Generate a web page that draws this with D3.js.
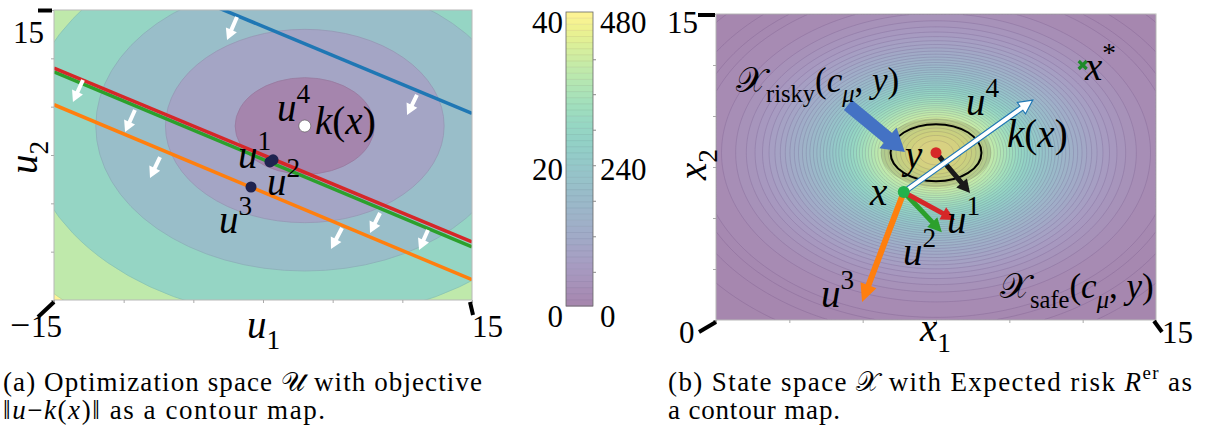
<!DOCTYPE html>
<html>
<head>
<meta charset="utf-8">
<script src="https://cdn.jsdelivr.net/npm/d3@7"></script>
<style>
  body { margin: 0; background: #fff; }
  svg { display: block; }
</style>
</head>
<body>
<svg id="fig" width="1205" height="436" font-family="'Liberation Serif', 'Times New Roman', serif"></svg>
<script>

// ---------------- data: panel (a), optimization space U ----------------
var U_DOMAIN = [-15, 15];
var U_TICKS = [-15, -10, -5, 0, 5, 10, 15];
var KX = [3, 3];                                  // k(x), centre of ||u - k(x)||
var OBJ_LEVELS = [5, 10, 15, 20, 25];             // contour levels of the objective

// constraint lines, given by u2 at u1 = -15 and at u1 = 15
var CON_Y_LEFT  = [22.3, 5.2, 8.6, 9.0];
var CON_Y_RIGHT = [4.3, -12.9, -9.5, -9.0];

// white arrows showing the feasible side of each constraint
var HALF_TAIL_X = [-1.87, 11.05, -12.92, -9.19, -7.39, 8.40, 5.67, 11.84];
var HALF_TAIL_Y = [14.28, 6.21, 7.76, 4.66, -0.21, -6.0, -7.55, -7.76];
var HALF_HEAD_X = [-2.58, 10.34, -13.64, -9.90, -8.11, 7.68, 4.88, 11.20];
var HALF_HEAD_Y = [11.90, 4.14, 5.48, 2.38, -2.38, -8.07, -9.72, -9.83];

// candidate solutions u^1..u^4
var U_NAMES = ["1", "2", "3", "4"];
var U_X = [0.72, 0.5, -0.86, 3];
var U_Y = [-0.5, -0.72, -3.31, 3];

// ---------------- data: colour bar ----------------
var CB_LEFT_TICKS = [0, 20, 40];
var CB_RIGHT_TICKS = [0, 240, 480];
var CB_MINOR = [55, 113, 171, 229, 287, 345, 402];

// ---------------- data: panel (b), state space X ----------------
var X_DOMAIN = [0, 15];
var X_TICKS = [0, 2.5, 5, 7.5, 10, 12.5, 15];
var Y_OBS = [7.5, 8.2];                            // obstacle y
var RISK_PEAK = 480;
var RISK_SIGMA = 2.9;
var RISK_LEVELS = [0, 1.5, 4, 7].concat(d3.range(10, 480, 10));
var CB_LEVELS = d3.range(0, 480, 10);
var RISKY_R = [1.55, 1.4];                         // X_risky boundary
var HALO_R = [1.88, 1.69];
var X_STATE = [6.4, 6.27];
var X_STAR = [12.5, 12.5];
var Y_ARROW_END = [8.66, 6.23];                    // black arrow from y
var CTRL_NAMES = ["1", "2", "3", "4"];
var CTRL_END_X = [8.15, 7.7, 4.98, 10.8];
var CTRL_END_Y = [4.9, 4.3, 0.88, 10.78];
var POINTER_FROM = [4.5, 10.54];
var POINTER_TO = [6.44, 8.24];

// ---------------- helpers ----------------
var ALPHA = 0.48;
function blend(t) {
  return d3.interpolateRgb("#ffffff", d3.interpolateViridis(t))(ALPHA);
}

function arrowPath(x0, y0, x1, y1, w, hw, hl) {
  var dx = x1 - x0, dy = y1 - y0, L = Math.hypot(dx, dy);
  var ux = dx / L, uy = dy / L, nx = -uy, ny = ux;
  var bx = x1 - ux * hl, by = y1 - uy * hl;
  var pts = [
    [x0 + nx * w / 2, y0 + ny * w / 2], [bx + nx * w / 2, by + ny * w / 2],
    [bx + nx * hw / 2, by + ny * hw / 2], [x1, y1],
    [bx - nx * hw / 2, by - ny * hw / 2], [bx - nx * w / 2, by - ny * w / 2],
    [x0 - nx * w / 2, y0 - ny * w / 2]
  ];
  return "M" + pts.map(function(p) { return p[0].toFixed(2) + "," + p[1].toFixed(2); }).join("L") + "Z";
}

// parts: [text, style]; style is "i", "r", "isub", "rsub", "rsup", "isup"
function mathText(g, x, y, size, parts, anchor) {
  var t = g.append("text").attr("x", x).attr("y", y)
            .attr("font-size", size).attr("text-anchor", anchor || "start");
  var shift = 0;
  parts.forEach(function(p) {
    var s = p[1] || "i";
    var target = s.indexOf("sub") >= 0 ? size * 0.28 : (s.indexOf("sup") >= 0 ? -size * 0.45 : 0);
    var sp = t.append("tspan").text(p[0]).attr("dy", target - shift);
    shift = target;
    if (s.charAt(0) === "i") sp.attr("font-style", "italic");
    if (target !== 0) sp.attr("font-size", size * 0.7);
  });
  return t;
}

function thickTick(g, x0, y0, x1, y1) {
  g.append("line").attr("x1", x0).attr("y1", y0).attr("x2", x1).attr("y2", y1)
    .attr("stroke", "#000").attr("stroke-width", 4);
}

var svg = d3.select("#fig");
svg.append("rect").attr("width", 1205).attr("height", 436).attr("fill", "#fff");
var defs = svg.append("defs");

var LS = 39;   // math label size
var TS = 31;   // tick label size

// =====================================================================
// Panel (a)
// =====================================================================
var xU = d3.scaleLinear().domain(U_DOMAIN).range([54, 472]);
var yU = d3.scaleLinear().domain(U_DOMAIN).range([300, 10]);

defs.append("clipPath").attr("id", "clipA").append("rect")
    .attr("x", xU(-15)).attr("y", yU(15))
    .attr("width", xU(15) - xU(-15)).attr("height", yU(-15) - yU(15));

var gA = svg.append("g");
var plotA = gA.append("g").attr("clip-path", "url(#clipA)");

// background band (beyond outer level)
plotA.append("rect")
    .attr("x", xU(-15)).attr("y", yU(15))
    .attr("width", xU(15) - xU(-15)).attr("height", yU(-15) - yU(15))
    .attr("fill", blend(1));

// objective contour bands, outer first
OBJ_LEVELS.slice().reverse().forEach(function(r) {
  var i = OBJ_LEVELS.indexOf(r);
  var c = blend(i / OBJ_LEVELS.length);
  plotA.append("ellipse")
      .attr("cx", xU(KX[0])).attr("cy", yU(KX[1]))
      .attr("rx", xU(r) - xU(0)).attr("ry", yU(0) - yU(r))
      .attr("fill", c)
      .attr("stroke", d3.color(c).darker(0.25))
      .attr("stroke-width", 0.8);
});

// constraint lines
var conColors = ["#1f77b4", "#ff7f0e", "#2ca02c", "#d62728"];
plotA.selectAll("line.con")
    .data(CON_Y_LEFT).enter()
  .append("line")
    .attr("class", "con")
    .attr("x1", xU(-15)).attr("x2", xU(15))
    .attr("y1", function(d) { return yU(d); })
    .attr("y2", function(d, i) { return yU(CON_Y_RIGHT[i]); })
    .attr("stroke", function(d, i) { return conColors[i]; })
    .attr("stroke-width", 3.5);

// half-space arrows
plotA.selectAll("path.half")
    .data(HALF_TAIL_X).enter()
  .append("path")
    .attr("class", "half")
    .attr("d", function(d, i) {
      return arrowPath(xU(d), yU(HALF_TAIL_Y[i]), xU(HALF_HEAD_X[i]), yU(HALF_HEAD_Y[i]), 4, 12, 11);
    })
    .attr("fill", "#fff");

// candidate points
plotA.selectAll("circle.u")
    .data(U_NAMES).enter()
  .append("circle")
    .attr("class", "u")
    .attr("cx", function(d, i) { return xU(U_X[i]); })
    .attr("cy", function(d, i) { return yU(U_Y[i]); })
    .attr("r", function(d, i) { return i === 3 ? 6 : 5.5; })
    .attr("fill", function(d, i) { return i === 3 ? "#fff" : "#1f2350"; })
    .attr("stroke", function(d, i) { return i === 3 ? "#555" : "none"; })
    .attr("stroke-width", 0.6);

// labels in panel (a)
mathText(gA, 277, 121, LS, [["u", "i"], ["4", "rsup"]]);
mathText(gA, 315, 134, LS, [["k", "i"], ["(", "r"], ["x", "i"], [")", "r"]]);
mathText(gA, 238, 168, LS, [["u", "i"], ["1", "rsup"]]);
mathText(gA, 267, 195, LS, [["u", "i"], ["2", "rsup"]]);
mathText(gA, 219, 233, LS, [["u", "i"], ["3", "rsup"]]);

// frame and ticks
gA.append("rect")
    .attr("x", xU(-15)).attr("y", yU(15))
    .attr("width", xU(15) - xU(-15)).attr("height", yU(-15) - yU(15))
    .attr("fill", "none").attr("stroke", "#b8b8b8").attr("stroke-width", 1);

gA.append("g").attr("transform", "translate(" + xU(-15) + ",0)")
    .call(d3.axisLeft(yU).tickValues(U_TICKS).tickSize(3).tickFormat(""))
    .call(function(g) { g.select(".domain").remove(); g.selectAll("line").attr("stroke", "#aaa"); });
gA.append("g").attr("transform", "translate(0," + yU(-15) + ")")
    .call(d3.axisBottom(xU).tickValues(U_TICKS).tickSize(3).tickFormat(""))
    .call(function(g) { g.select(".domain").remove(); g.selectAll("line").attr("stroke", "#aaa"); });

thickTick(gA, xU(-15) - 16, yU(15) + 0.5, xU(-15) - 2, yU(15) + 0.5);
thickTick(gA, xU(-15) - 16, yU(-15) + 17, xU(-15), yU(-15) + 2);
thickTick(gA, xU(15) - 2, yU(-15) + 2, xU(15) + 1, yU(-15) + 15);

gA.append("text").attr("x", 44).attr("y", 43).attr("font-size", TS).attr("text-anchor", "end").text("15");
var neg = gA.append("text").attr("x", 10).attr("y", 337).attr("font-size", TS);
neg.append("tspan").attr("font-size", TS * 1.15).text("\u2212");
neg.append("tspan").attr("dx", 1).text("15");
gA.append("text").attr("x", 472).attr("y", 337).attr("font-size", TS).text("15");
mathText(gA, 247, 338, LS, [["u", "i"], ["1", "rsub"]]);
mathText(gA.append("g").attr("transform", "translate(37,174) rotate(-90)"), 0, 0, LS, [["u", "i"], ["2", "rsub"]]);

// =====================================================================
// Colour bar
// =====================================================================
var gC = svg.append("g");
var cbX = 566, cbW = 27;
var yCB = d3.scaleLinear().domain([0, 480]).range([306, 12]);
gC.selectAll("rect.band")
    .data(CB_LEVELS).enter()
  .append("rect")
    .attr("class", "band")
    .attr("x", cbX).attr("width", cbW)
    .attr("y", function(d) { return yCB(d + 10); })
    .attr("height", function(d) { return yCB(d) - yCB(d + 10) + 0.5; })
    .attr("fill", function(d) { return blend((d + 5) / 480); });
gC.selectAll("line.sep")
    .data(CB_LEVELS.slice(1)).enter()
  .append("line")
    .attr("class", "sep")
    .attr("x1", cbX).attr("x2", cbX + cbW)
    .attr("y1", function(d) { return yCB(d); }).attr("y2", function(d) { return yCB(d); })
    .attr("stroke", "rgba(60,50,90,0.12)").attr("stroke-width", 0.7);
gC.append("rect").attr("x", cbX).attr("y", yCB(480)).attr("width", cbW).attr("height", yCB(0) - yCB(480))
    .attr("fill", "none").attr("stroke", "#666").attr("stroke-width", 0.8);
gC.selectAll("line.minor")
    .data(CB_MINOR).enter()
  .append("line")
    .attr("x1", cbX + cbW).attr("x2", cbX + cbW + 3)
    .attr("y1", function(d) { return yCB(d); }).attr("y2", function(d) { return yCB(d); })
    .attr("stroke", "#888");
var yCBleft = d3.scaleLinear().domain([0, 40]).range([306, 12]);
gC.selectAll("text.cl")
    .data(CB_LEFT_TICKS).enter()
  .append("text")
    .attr("x", 563).attr("y", function(d) { return yCBleft(d) + 21; })
    .attr("font-size", TS).attr("text-anchor", "end")
    .text(function(d) { return d; });
gC.selectAll("text.cr")
    .data(CB_RIGHT_TICKS).enter()
  .append("text")
    .attr("x", 600).attr("y", function(d) { return yCB(d) + 21; })
    .attr("font-size", TS)
    .text(function(d) { return d; });

// =====================================================================
// Panel (b)
// =====================================================================
var xX = d3.scaleLinear().domain(X_DOMAIN).range([716, 1156]);
var yX = d3.scaleLinear().domain(X_DOMAIN).range([320, 14]);

defs.append("clipPath").attr("id", "clipB").append("rect")
    .attr("x", xX(0)).attr("y", yX(15))
    .attr("width", xX(15) - xX(0)).attr("height", yX(0) - yX(15));

var gB = svg.append("g");
var plotB = gB.append("g").attr("clip-path", "url(#clipB)");

// risk field on a grid
var NX = 300, NY = 220;
var grid = new Array(NX * NY);
for (var j = 0; j < NY; j++) {
  for (var i = 0; i < NX; i++) {
    var gx = (i + 0.5) / NX * 15, gy = 15 - (j + 0.5) / NY * 15;
    var r2 = (gx - Y_OBS[0]) * (gx - Y_OBS[0]) + (gy - Y_OBS[1]) * (gy - Y_OBS[1]);
    grid[i + j * NX] = RISK_PEAK * Math.exp(-r2 / (2 * RISK_SIGMA * RISK_SIGMA));
  }
}
var contours = d3.contours().size([NX, NY]).thresholds(RISK_LEVELS)(grid);
var toPx = d3.geoTransform({
  point: function(px, py) {
    this.stream.point(xX(px / NX * 15), yX(15 - py / NY * 15));
  }
});
var cPath = d3.geoPath(toPx);
plotB.selectAll("path.fill")
    .data(contours).enter()
  .append("path")
    .attr("d", cPath)
    .attr("fill", function(d) { return blend(Math.min(1, (d.value + 5) / RISK_PEAK)); });
plotB.selectAll("path.iso")
    .data(contours.slice(1)).enter()
  .append("path")
    .attr("d", cPath)
    .attr("fill", "none")
    .attr("stroke", "rgba(70,40,100,0.22)")
    .attr("stroke-width", 0.7);

// X_risky region
plotB.append("ellipse")
    .attr("cx", xX(Y_OBS[0])).attr("cy", yX(Y_OBS[1]))
    .attr("rx", xX(HALO_R[0]) - xX(0)).attr("ry", yX(0) - yX(HALO_R[1]))
    .attr("fill", "#5a5a40").attr("fill-opacity", 0.22);
plotB.append("ellipse")
    .attr("cx", xX(Y_OBS[0])).attr("cy", yX(Y_OBS[1]))
    .attr("rx", xX(RISKY_R[0]) - xX(0)).attr("ry", yX(0) - yX(RISKY_R[1]))
    .attr("fill", "none").attr("stroke", "#000").attr("stroke-width", 2);

// pointer to X_risky
plotB.append("path")
    .attr("d", arrowPath(xX(POINTER_FROM[0]), yX(POINTER_FROM[1]), xX(POINTER_TO[0]), yX(POINTER_TO[1]), 13, 27, 22))
    .attr("fill", "#4472c4");

// black arrow from y
plotB.append("path")
    .attr("d", arrowPath(xX(Y_OBS[0]), yX(Y_OBS[1]), xX(Y_ARROW_END[0]), yX(Y_ARROW_END[1]), 5, 14, 13))
    .attr("fill", "#1a1a1a");

// control arrows from x
var ctrlColors = ["#d62728", "#2ca02c", "#ff7f0e", "#ffffff"];
var ctrlW = [5, 5, 6, 5], ctrlHW = [14, 14, 17, 14], ctrlHL = [14, 14, 18, 14];
[2, 1, 0, 3].forEach(function(i) {
  plotB.append("path")
      .attr("d", arrowPath(xX(X_STATE[0]), yX(X_STATE[1]), xX(CTRL_END_X[i]), yX(CTRL_END_Y[i]), ctrlW[i], ctrlHW[i], ctrlHL[i]))
      .attr("fill", ctrlColors[i])
      .attr("stroke", i === 3 ? "#1f77b4" : "none")
      .attr("stroke-width", 1.2)
      .attr("stroke-linejoin", "miter");
});

plotB.append("circle").attr("cx", xX(Y_OBS[0])).attr("cy", yX(Y_OBS[1])).attr("r", 5.5).attr("fill", "#d62728");
plotB.append("circle").attr("cx", xX(X_STATE[0])).attr("cy", yX(X_STATE[1])).attr("r", 6).attr("fill", "#22b14c");

// x* marker
var sx = xX(X_STAR[0]), sy = yX(X_STAR[1]);
plotB.append("path")
    .attr("d", "M" + (sx - 4) + "," + (sy - 4) + "L" + (sx + 4) + "," + (sy + 4) + "M" + (sx - 4) + "," + (sy + 4) + "L" + (sx + 4) + "," + (sy - 4))
    .attr("stroke", "#1d8a2a").attr("stroke-width", 3.2);

// labels in panel (b)
var CAL = "\uD835\uDCB3";   // script X
mathText(gB, 736, 92, 35, [[CAL, "r"], ["risky", "rsub"], ["(", "r"], ["c", "i"], ["\u03BC", "isub"], [", ", "r"], ["y", "i"], [")", "r"]]);
mathText(gB, 1000, 298, 35, [[CAL, "r"], ["safe", "rsub"], ["(", "r"], ["c", "i"], ["\u03BC", "isub"], [", ", "r"], ["y", "i"], [")", "r"]]);
mathText(gB, 966, 115, LS, [["u", "i"], ["4", "rsup"]]);
mathText(gB, 1007, 147, LS, [["k", "i"], ["(", "r"], ["x", "i"], [")", "r"]]);
mathText(gB, 905, 168, LS, [["y", "i"]]);
mathText(gB, 870, 205, LS, [["x", "i"]]);
mathText(gB, 947, 233, LS, [["u", "i"], ["1", "rsup"]]);
mathText(gB, 903, 265, LS, [["u", "i"], ["2", "rsup"]]);
mathText(gB, 821, 307, LS, [["u", "i"], ["3", "rsup"]]);
mathText(gB, 1085, 80, LS, [["x", "i"], ["*", "rsup"]]);

// frame and ticks
gB.append("rect")
    .attr("x", xX(0)).attr("y", yX(15))
    .attr("width", xX(15) - xX(0)).attr("height", yX(0) - yX(15))
    .attr("fill", "none").attr("stroke", "#b8b8b8").attr("stroke-width", 1);
gB.append("g").attr("transform", "translate(" + xX(0) + ",0)")
    .call(d3.axisLeft(yX).tickValues(X_TICKS).tickSize(3).tickFormat(""))
    .call(function(g) { g.select(".domain").remove(); g.selectAll("line").attr("stroke", "#aaa"); });
gB.append("g").attr("transform", "translate(0," + yX(0) + ")")
    .call(d3.axisBottom(xX).tickValues(X_TICKS).tickSize(3).tickFormat(""))
    .call(function(g) { g.select(".domain").remove(); g.selectAll("line").attr("stroke", "#aaa"); });

thickTick(gB, xX(0) - 18, yX(15) + 1, xX(0) - 1, yX(15) + 1);
thickTick(gB, xX(0) - 17, yX(0) + 12, xX(0), yX(0) + 2);
thickTick(gB, xX(15) - 2, yX(0) + 1, xX(15) + 6, yX(0) + 12);

gB.append("text").attr("x", 698).attr("y", 33).attr("font-size", TS).attr("text-anchor", "end").text("15");
gB.append("text").attr("x", 679).attr("y", 343).attr("font-size", TS).text("0");
gB.append("text").attr("x", 1162).attr("y", 343).attr("font-size", TS).text("15");
mathText(gB, 920, 341, LS, [["x", "i"], ["1", "rsub"]]);
mathText(gB.append("g").attr("transform", "translate(706,180) rotate(-90)"), 0, 0, LS, [["x", "i"], ["2", "rsub"]]);

// =====================================================================
// Captions
// =====================================================================
var CS = 27;
var capA = svg.append("g");
mathText(capA, 3, 391, CS, [["(a) Optimization space ", "r"], ["\uD835\uDCB0", "r"], [" with objective", "r"]])
    .attr("textLength", 479).attr("lengthAdjust", "spacing");
mathText(capA, 3, 419, CS, [["\u2016", "r"], ["u", "i"], ["\u2212", "r"], ["k", "i"], ["(", "r"], ["x", "i"], [")", "r"], ["\u2016 as a contour map.", "r"]])
    .attr("textLength", 322).attr("lengthAdjust", "spacing");
var capB = svg.append("g");
mathText(capB, 668, 391, CS, [["(b) State space ", "r"], [CAL, "r"], [" with Expected risk ", "r"], ["R", "i"], ["er", "rsup"], [" as", "r"]])
    .attr("textLength", 524).attr("lengthAdjust", "spacing");
mathText(capB, 668, 419, CS, [["a contour map.", "r"]])
    .attr("textLength", 172).attr("lengthAdjust", "spacing");

</script>
</body>
</html>
